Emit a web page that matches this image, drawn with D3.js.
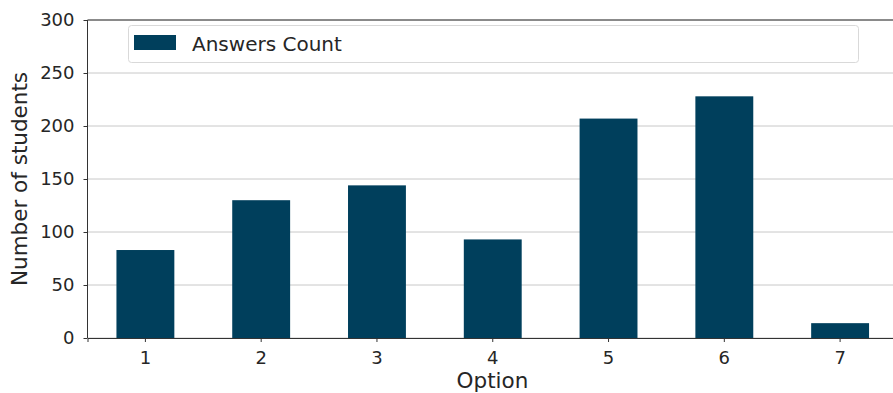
<!DOCTYPE html>
<html>
<head>
<meta charset="utf-8">
<script src="https://cdn.jsdelivr.net/npm/d3@7"></script>
<style>
  html, body { margin: 0; padding: 0; background: #fff; }
  svg { display: block; font-family: "DejaVu Sans", sans-serif; }
</style>
</head>
<body>
<svg id="chart" width="893" height="393"></svg>
<script>
// Answer counts per option
const options = ["1", "2", "3", "4", "5", "6", "7"];
const answersCount = [83, 130, 144, 93, 207, 228, 14];
const yTicks = [0, 50, 100, 150, 200, 250, 300];
const seriesName = "Answers Count";
const yLabel = "Number of students";
const xLabel = "Option";

const barColor = "#003f5c";
const textColor = "#262626";
const svg = d3.select("#chart");

const plot = { left: 87.5, right: 898, top: 20, bottom: 338 };

const x = d3.scaleBand()
  .domain(options)
  .range([plot.left, plot.right])
  .paddingInner(0.5)
  .paddingOuter(0.25);

const y = d3.scaleLinear()
  .domain([0, 300])
  .range([plot.bottom, plot.top]);

// horizontal grid
svg.append("g")
  .selectAll("line")
  .data(yTicks)
  .join("line")
  .attr("x1", plot.left)
  .attr("x2", plot.right)
  .attr("y1", d => y(d))
  .attr("y2", d => y(d))
  .attr("stroke", "#c8c8c8")
  .attr("stroke-width", 1);

// bars
svg.append("g")
  .selectAll("rect")
  .data(answersCount)
  .join("rect")
  .attr("x", (d, i) => x(options[i]))
  .attr("width", x.bandwidth())
  .attr("y", d => y(d))
  .attr("height", d => y(0) - y(d))
  .attr("fill", barColor);

// top spine
svg.append("line")
  .attr("x1", plot.left).attr("x2", plot.right)
  .attr("y1", plot.top).attr("y2", plot.top)
  .attr("stroke", "#333").attr("stroke-width", 1);

// axes
const yAxis = svg.append("g")
  .attr("transform", `translate(${plot.left},0)`)
  .call(d3.axisLeft(y).tickValues(yTicks).tickSize(4).tickPadding(9));
const xAxis = svg.append("g")
  .attr("transform", `translate(0,${plot.bottom})`)
  .call(d3.axisBottom(x).tickSize(4).tickPadding(9));

[yAxis, xAxis].forEach(g => {
  g.attr("font-size", null).attr("font-family", null);
  g.select(".domain").attr("stroke", "#333").attr("stroke-width", 1);
  g.selectAll(".tick line").attr("stroke", "#333");
  g.selectAll(".tick text")
    .attr("fill", textColor)
    .style("font-size", "18px")
    .style("font-family", "'DejaVu Sans', sans-serif");
});
yAxis.select(".domain").attr("d", `M0,${plot.bottom}V${plot.top}`);

// axis titles
svg.append("text")
  .attr("transform", `translate(27,${(plot.top + plot.bottom) / 2}) rotate(-90)`)
  .attr("text-anchor", "middle")
  .attr("fill", textColor)
  .style("font-size", "21.5px")
  .text(yLabel);

svg.append("text")
  .attr("x", 492.5)
  .attr("y", 388)
  .attr("text-anchor", "middle")
  .attr("fill", textColor)
  .style("font-size", "21.5px")
  .text(xLabel);

// legend
const legend = svg.append("g");
legend.append("rect")
  .attr("x", 128.5).attr("y", 25.5)
  .attr("width", 730).attr("height", 37)
  .attr("rx", 3)
  .attr("fill", "#fff")
  .attr("fill-opacity", 0.8)
  .attr("stroke", "#d9d9d9");
legend.append("rect")
  .attr("x", 134).attr("y", 35)
  .attr("width", 42).attr("height", 15)
  .attr("fill", barColor);
legend.append("text")
  .attr("x", 192).attr("y", 50.5)
  .attr("fill", textColor)
  .style("font-size", "20px")
  .text(seriesName);
</script>
</body>
</html>
